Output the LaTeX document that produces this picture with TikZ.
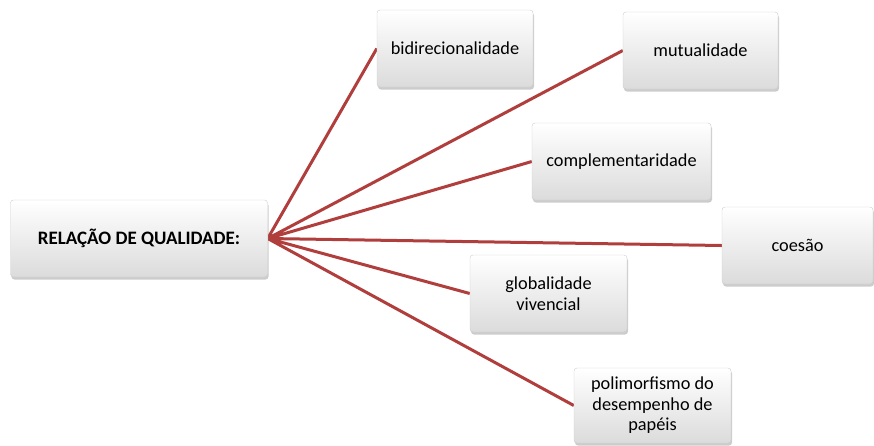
\documentclass[tikz,border=0pt]{standalone}
\usepackage{fontspec}
\setmainfont{Carlito}
\usetikzlibrary{shadows,backgrounds}
\definecolor{linkred}{RGB}{176,62,60}
\tikzset{
  box/.style={draw=gray!40, rounded corners=3pt, top color=white, bottom color=gray!28,
    drop shadow={opacity=0.4, shadow xshift=1pt, shadow yshift=-2.5pt},
    align=center, font=\fontsize{18.3}{20.5}\selectfont, inner sep=2pt},
  link/.style={draw=linkred, line width=3pt}
}
\begin{document}
\begin{tikzpicture}[x=1pt, y=-1pt]
				\useasboundingbox (0,0) rectangle (874,445);
				\node[box, minimum width=257pt, minimum height=77pt, font=\fontsize{19}{22}\selectfont\bfseries] (rel) at (139,238.5) {RELAÇÃO DE QUALIDADE:};
				\node[box, minimum width=156pt, minimum height=77pt] (bid) at (455,48.5) {bidirecionalidade};
				\node[box, minimum width=155pt, minimum height=77pt] (mut) at (700.5,50.5) {mutualidade};
				\node[box, minimum width=179pt, minimum height=77pt] (comp) at (621.5,161.5) {complementaridade};
				\node[box, minimum width=151pt, minimum height=77pt] (coe) at (797.5,245.5) {coesão};
				\node[box, minimum width=157pt, minimum height=77pt] (glob) at (548.5,293.5) {globalidade\\vivencial};
				\node[box, minimum width=157pt, minimum height=75pt] (pol) at (652.5,405.5) {polimorfismo do\\desempenho de\\papéis};
				\begin{scope}[on background layer]
				\draw[link] (rel.east)--(bid.west) (rel.east)--(mut.west) (rel.east)--(comp.west);
				\draw[link] (rel.east)--(coe.west) (rel.east)--(glob.west) (rel.east)--(pol.west);
				\end{scope}
\end{tikzpicture}
\end{document}
